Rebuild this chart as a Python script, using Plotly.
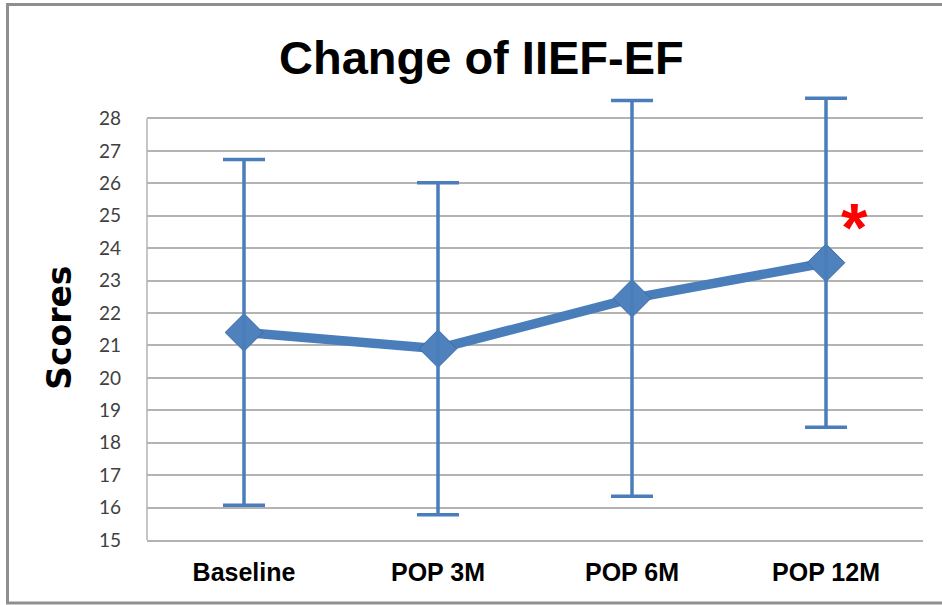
import plotly.graph_objects as go

categories = ["Baseline", "POP 3M", "POP 6M", "POP 12M"]
means = [21.4, 20.9, 22.45, 23.55]
sds = [5.33, 5.12, 6.1, 5.07]
y_ticks = list(range(15, 29))
y_min, y_top_tick, y_max = 15, 28, 29
title_text = "Change of IIEF-EF"
y_title = "Scores"
sig_label = "*"
sig_category = "POP 12M"
sig_value = 24.65

BLUE = "#4A7EBB"
GRID = "#B3B3B3"

# plot area geometry (pixels)
L, R, B = 147, 19, 65
unit = 32.4
plot_h = unit * (y_max - y_min)
T = 605 - B - plot_h
bottom_px = 605 - B

def py(pix):
    return (bottom_px - pix) / plot_h

def px(pix):
    return (pix - L) / (942 - L - R)

fig = go.Figure()
fig.add_trace(go.Scatter(
    x=categories, y=means, mode="lines+markers",
    line=dict(color=BLUE, width=9.5),
    marker=dict(symbol="diamond", size=29, color="#4F81BD",
                line=dict(color="#3A6AA6", width=1)),
    showlegend=False, hoverinfo="skip"))
fig.add_trace(go.Scatter(
    x=categories, y=means, mode="markers",
    marker=dict(size=1, color="rgba(0,0,0,0)"),
    error_y=dict(type="data", array=sds, symmetric=True,
                 color=BLUE, thickness=3.5, width=21),
    showlegend=False, hoverinfo="skip"))

fig.update_layout(
    width=942, height=605,
    margin=dict(l=L, r=R, t=T, b=B),
    paper_bgcolor="white", plot_bgcolor="white",
    title=dict(text=title_text, x=0.511, xref="container", xanchor="center",
               y=1 - 58 / 605, yref="container", yanchor="middle",
               font=dict(family="Liberation Sans, Arial", size=47, color="black")),
    xaxis=dict(type="category", range=[-0.5, 3.5], showgrid=False,
               showline=True, linecolor=GRID, linewidth=1.5,
               ticks="", tickfont=dict(family="Liberation Sans, Arial",
                                      size=25, color="black"),
               ticklabelstandoff=9),
    yaxis=dict(range=[y_min, y_max], tickvals=y_ticks, showgrid=True,
               gridcolor=GRID, gridwidth=1.5, zeroline=False,
               showline=False,
               ticks="", tickfont=dict(family="Lato, Open Sans", size=19, color="#404040"),
               ticklabelstandoff=25),
    shapes=[
        dict(type="line", xref="paper", yref="y", x0=0, x1=0, y0=y_min, y1=y_top_tick,
             line=dict(color=GRID, width=1.5), layer="below"),
        dict(type="rect", xref="paper", yref="paper",
             x0=px(7.5), x1=px(960), y0=py(603), y1=py(5),
             line=dict(color="#8F8F8F", width=3), fillcolor="rgba(0,0,0,0)",
             layer="below"),
    ],
    annotations=[
        dict(text=y_title, xref="paper", yref="paper", x=px(60), y=py(328),
             textangle=-90, showarrow=False, xanchor="center", yanchor="middle",
             font=dict(family="DejaVu Sans", size=33, color="black")),
        dict(text="<b>" + sig_label + "</b>", xref="x", yref="y", x=sig_category, y=sig_value,
             xshift=28, showarrow=False, xanchor="center", yanchor="middle",
             font=dict(family="Liberation Sans, Arial", size=68, color="#FF0000")),
    ],
)
fig.layout.title.font.weight = "bold"
fig.layout.annotations[0].font.weight = "bold"
fig.layout.xaxis.tickfont.weight = "bold"

fig.write_html("out.html", config={"displayModeBar": False},
               post_script="document.body.style.margin='0';document.body.style.overflow='hidden';")
